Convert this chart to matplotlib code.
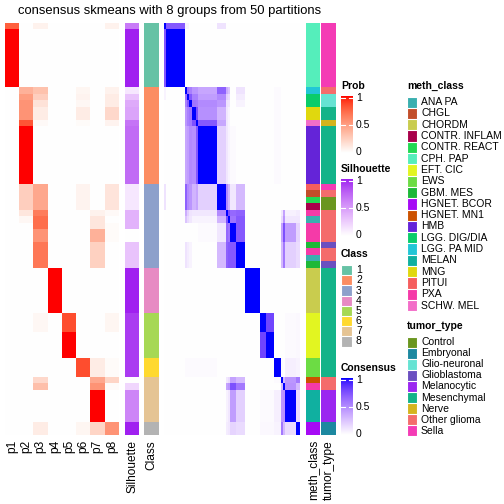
import numpy as np
import matplotlib
matplotlib.use('Agg')
import matplotlib.pyplot as plt
from matplotlib.colors import ListedColormap, to_rgb

plt.rcParams['font.family'] = ['Liberation Sans', 'DejaVu Sans']

W = 504
H = 504

# ---- data (run lengths top to bottom) ----
n_groups = 8
class_runs = [(10, 1), (15, 2), (13, 3), (7, 4), (7, 5), (3, 6), (7, 7), (2, 8)]

prob_runs = [
    (1, [0.78, 0, 0.07, 0, 0, 0, 0, 0.07]),
    (9, [1, 0, 0, 0, 0, 0, 0, 0]),
    (1, [0, 0.40, 0.32, 0, 0, 0.05, 0, 0.07]),
    (1, [0, 0.50, 0.25, 0, 0, 0.06, 0, 0.10]),
    (1, [0, 0.55, 0.15, 0, 0, 0.04, 0, 0.10]),
    (2, [0, 0.55, 0.10, 0, 0, 0.10, 0, 0.20]),
    (1, [0, 0.82, 0.03, 0, 0, 0.02, 0, 0.06]),
    (9, [0, 1, 0, 0, 0, 0, 0, 0]),
    (4, [0, 0.25, 0.45, 0, 0, 0.06, 0, 0.14]),
    (1, [0, 0.13, 0.66, 0, 0, 0, 0.07, 0.03]),
    (1, [0, 0.04, 0.72, 0, 0, 0, 0.13, 0]),
    (1, [0, 0, 0.72, 0, 0, 0, 0.13, 0.02]),
    (2, [0, 0, 0.55, 0, 0, 0, 0.40, 0.02]),
    (4, [0, 0, 0.68, 0, 0, 0, 0.24, 0]),
    (7, [0, 0, 0, 1, 0, 0, 0, 0]),
    (3, [0, 0, 0.04, 0, 0.85, 0, 0, 0.05]),
    (4, [0, 0, 0, 0, 1, 0, 0, 0]),
    (3, [0, 0, 0, 0, 0, 0.85, 0.10, 0.02]),
    (1, [0, 0, 0.20, 0, 0, 0, 0.45, 0.22]),
    (1, [0, 0, 0.33, 0, 0, 0, 0.55, 0.02]),
    (5, [0, 0, 0, 0, 0, 0, 1, 0]),
    (2, [0, 0, 0.10, 0, 0, 0.05, 0.22, 0.55]),
]

silhouette_runs = [(1, 0.65), (9, 1.0), (1, 0.12), (1, 0.30), (1, 0.42), (2, 0.45),
                   (1, 0.68), (9, 0.72), (4, 0.12), (3, 0.38), (2, 0.0), (4, 0.30),
                   (7, 1.0), (10, 0.92), (1, 0.0), (1, 0.20), (5, 0.60), (2, 1.0)]

meth_runs = [(10, 'CPH. PAP'), (1, 'LGG. PA MID'), (2, 'LGG. DIG/DIA'), (2, 'MNG'),
             (1, 'SCHW. MEL'), (9, 'HMB'), (1, 'PITUI'), (1, 'CHGL'), (1, 'CONTR. REACT'),
             (1, 'CONTR. INFLAM'), (1, 'PXA'), (1, 'ANA PA'), (3, 'PXA'), (1, 'GBM. MES'),
             (1, 'PXA'), (1, 'ANA PA'), (1, 'GBM. MES'), (7, 'CHORDM'), (7, 'EFT. CIC'),
             (3, 'EWS'), (1, 'HGNET. MN1'), (1, 'PXA'), (5, 'MELAN'), (2, 'HGNET. BCOR')]

tumor_runs = [(10, 'Sella'), (1, 'Other glioma'), (2, 'Glio-neuronal'), (2, 'Mesenchymal'),
              (1, 'Nerve'), (9, 'Mesenchymal'), (1, 'Sella'), (1, 'Other glioma'),
              (2, 'Control'), (5, 'Other glioma'), (1, 'Glioblastoma'), (2, 'Other glioma'),
              (1, 'Glioblastoma'), (17, 'Mesenchymal'), (2, 'Other glioma'),
              (5, 'Melanocytic'), (2, 'Embryonal')]

# consensus matrix: sample segments and pairwise values between them
seg_sizes = [1, 9, 1, 1, 1, 2, 1, 9, 4, 1, 1, 3, 4, 7, 3, 4, 3, 1, 1, 5, 2]
seg_pairs = [
    (0, 1, 0.72), (0, 2, 0.05), (0, 3, 0.05), (0, 8, 0.12),
    (2, 3, 0.62), (2, 4, 0.55), (2, 5, 0.45), (2, 6, 0.45), (2, 7, 0.38), (2, 8, 0.68),
    (2, 9, 0.35), (2, 10, 0.25), (2, 12, 0.12),
    (3, 4, 0.72), (3, 5, 0.55), (3, 6, 0.55), (3, 7, 0.42), (3, 8, 0.50), (3, 9, 0.20),
    (3, 10, 0.15), (3, 12, 0.08),
    (4, 5, 0.60), (4, 6, 0.58), (4, 7, 0.50), (4, 8, 0.45), (4, 9, 0.12), (4, 10, 0.10),
    (4, 12, 0.05),
    (5, 6, 0.75), (5, 7, 0.48), (5, 8, 0.32), (5, 9, 0.10), (5, 10, 0.05),
    (6, 7, 0.72), (6, 8, 0.38), (6, 9, 0.10), (6, 10, 0.05),
    (7, 8, 0.20), (7, 9, 0.10), (7, 10, 0.05), (7, 11, 0.02),
    (2, 16, 0.02), (3, 16, 0.02), (4, 16, 0.02), (5, 16, 0.02), (6, 16, 0.02), (7, 16, 0.02),
    (8, 9, 0.50), (8, 10, 0.32), (8, 11, 0.10), (8, 12, 0.30),
    (9, 10, 0.75), (9, 11, 0.65), (9, 12, 0.68), (9, 17, 0.10), (9, 18, 0.40),
    (9, 19, 0.06), (9, 20, 0.08),
    (10, 11, 0.60), (10, 12, 0.72), (10, 17, 0.15), (10, 18, 0.45), (10, 19, 0.10),
    (10, 20, 0.10),
    (11, 12, 0.72), (11, 17, 0.40), (11, 18, 0.75), (11, 19, 0.42), (11, 20, 0.18),
    (12, 17, 0.30), (12, 18, 0.58), (12, 19, 0.20), (12, 20, 0.15),
    (14, 15, 0.80), (14, 19, 0.02), (15, 19, 0.02), (14, 20, 0.03), (15, 20, 0.03),
    (16, 17, 0.02), (16, 19, 0.07), (16, 20, 0.05),
    (17, 18, 0.30), (17, 19, 0.45), (17, 20, 0.58),
    (18, 19, 0.47), (18, 20, 0.30),
    (19, 20, 0.15),
]

class_colors = ['#66C2A5', '#FC8D62', '#8DA0CB', '#E78AC3', '#A6D854', '#FFD92F', '#E5C494', '#B3B3B3']
meth_levels = ['ANA PA', 'CHGL', 'CHORDM', 'CONTR. INFLAM', 'CONTR. REACT', 'CPH. PAP', 'EFT. CIC',
               'EWS', 'GBM. MES', 'HGNET. BCOR', 'HGNET. MN1', 'HMB', 'LGG. DIG/DIA', 'LGG. PA MID',
               'MELAN', 'MNG', 'PITUI', 'PXA', 'SCHW. MEL']
meth_colors = ['#3AAFAF', '#C24E2A', '#C9CC4E', '#A8004A', '#22D852', '#55EEBB', '#E2F521',
               '#6CDC44', '#1DB838', '#A60AF5', '#CC5200', '#6424D8', '#0ACC6A', '#22C6D6',
               '#10B0A0', '#E0D80E', '#F55E5E', '#F53AA8', '#F36EC8']
tumor_levels = ['Control', 'Embryonal', 'Glio-neuronal', 'Glioblastoma', 'Melanocytic',
                'Mesenchymal', 'Nerve', 'Other glioma', 'Sella']
tumor_colors = ['#6A961F', '#1C88A0', '#66E3D3', '#6B4FC0', '#9B27F0', '#14B389', '#D4B41E',
                '#F46C6C', '#F43BB5']


def expand(runs):
    out = []
    for n, v in runs:
        out += [v] * n
    return out


# colour ramps interpolated in Lab space like colorRamp2
def srgb_to_lab(c):
    c = np.array(to_rgb(c))
    lin = np.where(c <= 0.04045, c / 12.92, ((c + 0.055) / 1.055) ** 2.4)
    M = np.array([[0.4124, 0.3576, 0.1805], [0.2126, 0.7152, 0.0722], [0.0193, 0.1192, 0.9505]])
    xyz = M @ lin / np.array([0.95047, 1.0, 1.08883])
    f = np.where(xyz > 0.008856, np.cbrt(xyz), 7.787 * xyz + 16 / 116)
    return np.array([116 * f[1] - 16, 500 * (f[0] - f[1]), 200 * (f[1] - f[2])])


def lab_to_srgb(lab):
    fy = (lab[0] + 16) / 116
    fx = fy + lab[1] / 500
    fz = fy - lab[2] / 200
    f = np.array([fx, fy, fz])
    xyz = np.where(f ** 3 > 0.008856, f ** 3, (f - 16 / 116) / 7.787) * np.array([0.95047, 1.0, 1.08883])
    Minv = np.array([[3.2406, -1.5372, -0.4986], [-0.9689, 1.8758, 0.0415], [0.0557, -0.2040, 1.0570]])
    lin = np.clip(Minv @ xyz, 0, 1)
    c = np.where(lin <= 0.0031308, 12.92 * lin, 1.055 * lin ** (1 / 2.4) - 0.055)
    return np.clip(c, 0, 1)


def lab_cmap(c1):
    a = srgb_to_lab('white')
    b = srgb_to_lab(c1)
    cols = [lab_to_srgb(a + (b - a) * t) for t in np.linspace(0, 1, 256)]
    return ListedColormap(cols)


red_cmap = lab_cmap('#FF0000')
sil_cmap = lab_cmap('#A020F0')
cons_cmap = lab_cmap('#0000FF')

# ---- build matrices ----
prob = np.array(expand(prob_runs))
sil = np.array(expand(silhouette_runs))
cls = np.array(expand(class_runs))
meth = expand(meth_runs)
tumor = expand(tumor_runs)

seg_id = np.repeat(np.arange(len(seg_sizes)), seg_sizes)
S = np.eye(len(seg_sizes))
for i, j, v in seg_pairs:
    S[i, j] = v
    S[j, i] = v
cons = S[seg_id][:, seg_id]


def px_axes(fig, x0, y0, x1, y1):
    ax = fig.add_axes([x0 / W, 1 - y1 / H, (x1 - x0) / W, (y1 - y0) / H])
    ax.set_axis_off()
    return ax


def to_rgb_col(labels, levels, colors):
    return np.array([[to_rgb(colors[levels.index(l)])] for l in labels])


fig = plt.figure(figsize=(W / 100, H / 100), dpi=100)
top, bot = 23, 435

ax = px_axes(fig, 5, top, 119, bot)
ax.imshow(prob, cmap=red_cmap, vmin=0, vmax=1, aspect='auto', interpolation='nearest')

ax = px_axes(fig, 125, top, 139, bot)
ax.imshow(sil[:, None], cmap=sil_cmap, vmin=0, vmax=1, aspect='auto', interpolation='nearest')

ax = px_axes(fig, 144, top, 159, bot)
ax.imshow(np.array([[to_rgb(class_colors[c - 1])] for c in cls]), aspect='auto', interpolation='nearest')

ax = px_axes(fig, 164, top, 300, bot)
ax.imshow(cons, cmap=cons_cmap, vmin=0, vmax=1, aspect='auto', interpolation='nearest')

ax = px_axes(fig, 306, top, 320, bot)
ax.imshow(to_rgb_col(meth, meth_levels, meth_colors), aspect='auto', interpolation='nearest')

ax = px_axes(fig, 321, top, 336, bot)
ax.imshow(to_rgb_col(tumor, tumor_levels, tumor_colors), aspect='auto', interpolation='nearest')

fig.text(170 / W, 1 - 11 / H, 'consensus skmeans with 8 groups from 50 partitions',
         ha='center', va='center', fontsize=9.4)

# column names
col_lab = ['p%d' % (k + 1) for k in range(n_groups)]
col_x = [5 + (k + 0.5) * 114 / n_groups for k in range(n_groups)]
col_lab += ['Silhouette', 'Class', 'meth_class', 'tumor_type']
col_x += [132, 151.5, 313, 328.5]
for lab, x in zip(col_lab, col_x):
    fig.text(x / W, 1 - 440 / H, lab, rotation=90, ha='center', va='top', fontsize=8.6)


def colorbar_legend(title, cmap, ty, y0, y1):
    fig.text(341 / W, 1 - ty / H, title, fontsize=7.5, fontweight='bold', va='center', ha='left')
    ax = px_axes(fig, 341, y0, 353, y1)
    ax.imshow(np.linspace(1, 0, 100)[:, None], cmap=cmap, vmin=0, vmax=1, aspect='auto')
    for t in [0.5, 1.0]:
        yy = 99.5 - t * 97
        ax.plot([-0.5, -0.2], [yy, yy], color='white', lw=0.8)
        ax.plot([0.2, 0.5], [yy, yy], color='white', lw=0.8)
    ax.set_xlim(-0.5, 0.5)
    ax.set_ylim(99.5, -0.5)
    for t, s in [(1, '1'), (0.5, '0.5'), (0, '0')]:
        yl = (y1 - 1) - t * (y1 - y0 - 3)
        fig.text(356 / W, 1 - yl / H, s, fontsize=7.5, va='center', ha='left')


colorbar_legend('Prob', red_cmap, 86, 96, 153)
colorbar_legend('Silhouette', sil_cmap, 169, 179, 236)
colorbar_legend('Consensus', cons_cmap, 368, 378, 435)

fig.text(341 / W, 1 - 254 / H, 'Class', fontsize=7.5, fontweight='bold', va='center', ha='left')
for k in range(n_groups):
    y = 265 + k * 10.2
    ax = px_axes(fig, 341, y, 352, y + 10.2)
    ax.add_patch(plt.Rectangle((0, 0), 1, 1, facecolor=class_colors[k], edgecolor='white', lw=0.8))
    ax.set_xlim(0, 1)
    ax.set_ylim(0, 1)
    fig.text(356 / W, 1 - (y + 5.1) / H, str(k + 1), fontsize=7.5, va='center', ha='left')


def discrete_legend(title, levels, colors, ty, y0, step):
    fig.text(407 / W, 1 - ty / H, title, fontsize=7.5, fontweight='bold', va='center', ha='left')
    for k, (lab, c) in enumerate(zip(levels, colors)):
        y = y0 + k * step
        ax = px_axes(fig, 407, y, 417, y + step)
        ax.add_patch(plt.Rectangle((0, 0), 1, 1, facecolor=c, edgecolor='white', lw=0.8))
        ax.set_xlim(0, 1)
        ax.set_ylim(0, 1)
        fig.text(421 / W, 1 - (y + step / 2) / H, lab, fontsize=7.5, va='center', ha='left')


discrete_legend('meth_class', meth_levels, meth_colors, 86, 96.5, 11.3)
discrete_legend('tumor_type', tumor_levels, tumor_colors, 326, 336.5, 11.1)

fig.savefig('out.png', dpi=100)
